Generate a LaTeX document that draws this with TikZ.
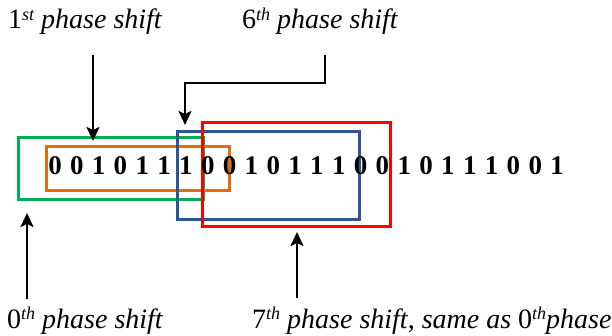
\documentclass[tikz,border=0pt]{standalone}
\usepackage{fontspec}
\setmainfont{Liberation Serif}
\usetikzlibrary{arrows.meta}
\definecolor{boxgreen}{HTML}{00B050}
\definecolor{boxorange}{HTML}{E46C0A}
\definecolor{boxblue}{HTML}{2F5496}
\definecolor{boxred}{HTML}{FF0000}
\newcommand{\supit}[1]{\raisebox{0.3em}{\fontsize{18}{18}\selectfont\itshape #1}}
\begin{document}
\begin{tikzpicture}[x=1pt,y=-1pt,
  lbl/.style={anchor=base west, inner sep=0pt, font=\fontsize{28}{30}\selectfont},
  bit/.style={anchor=base, inner sep=0pt, font=\fontsize{27}{30}\selectfont\bfseries},
  frame/.style={draw, line width=2.6pt, anchor=north west, inner sep=0pt},
  ptr/.style={line width=2.2pt, -{Stealth[length=14pt,width=13pt,inset=3pt]}}]
\useasboundingbox (0,0) rectangle (612,336);
% frames
\node[frame, boxgreen, minimum width=185pt, minimum height=62pt] (g) at (17,136) {};
\node[frame, boxorange, minimum width=183pt, minimum height=44pt] (o) at (45,145) {};
\node[frame, boxblue, minimum width=182pt, minimum height=88pt] (bl) at (176,130) {};
\node[frame, boxred, minimum width=188pt, minimum height=104pt] (r) at (201,121) {};
% bits
\foreach \b [count=\i from 0] in {0,0,1,0,1,1,1,0,0,1,0,1,1,1,0,0,1,0,1,1,1,0,0,1}
  \node[bit] (d\i) at (55+21.83*\i,175) {\b};
% labels
\node[lbl] (l1) at (8,29) {1\supit{st} \textit{phase shift}};
\node[lbl] (l6) at (242,29) {6\supit{th} \textit{phase shift}};
\node[lbl] (l0) at (7,328) {0\supit{th} \textit{phase shift}};
\node[lbl] (l7) at (252,328) {7\supit{th} \textit{phase shift}, \textit{same as} 0\supit{th}\textit{phase}};
% arrows
\coordinate (a1s) at (93,55);  \coordinate (a1e) at (93,141);
\coordinate (a6s) at (325,55); \coordinate (a6m) at (185,83); \coordinate (a6e) at (185,125);
\coordinate (a0s) at (27,299); \coordinate (a0e) at (27,213);
\coordinate (a7s) at (297,298); \coordinate (a7e) at (297,232);
\draw[ptr] (a1s) -- (a1e);
\draw[ptr] (a6s) |- (a6m) -- (a6e);
\draw[ptr] (a0s) -- (a0e);
\draw[ptr] (a7s) -- (a7e);
\end{tikzpicture}
\end{document}
